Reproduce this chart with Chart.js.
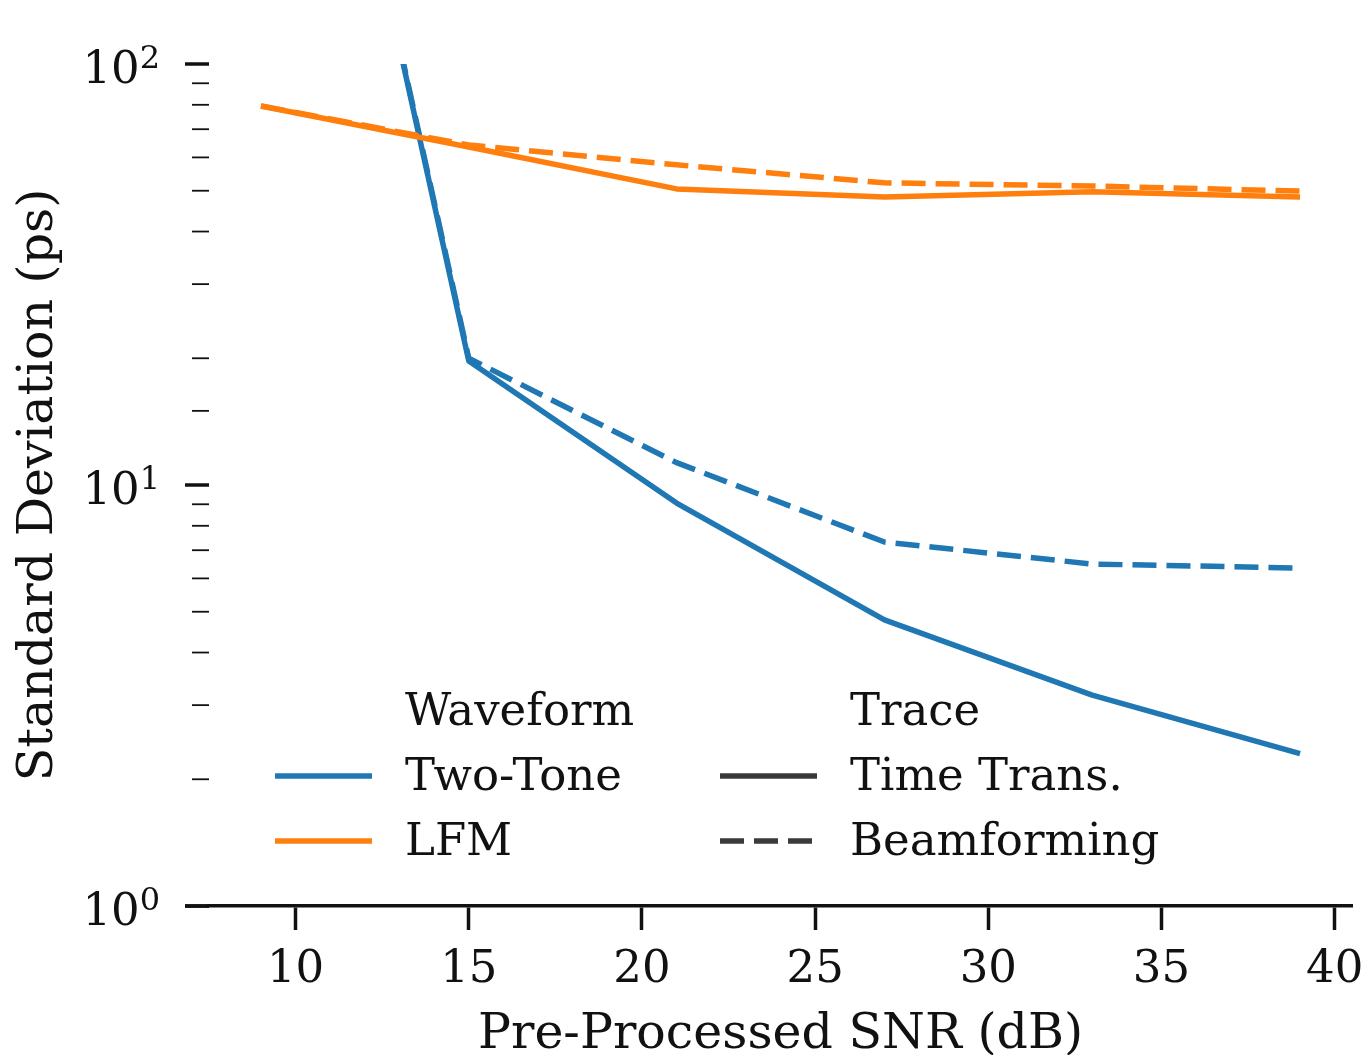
<!DOCTYPE html>
<html>
<head>
<meta charset="utf-8">
<script src="https://cdn.jsdelivr.net/npm/chart.js@4.4.1/dist/chart.umd.min.js"></script>
<style>
  html, body { margin: 0; padding: 0; background: #fff; overflow: hidden; }
  #snrChart { display: block; }
</style>
</head>
<body>
<canvas id="snrChart" width="1366" height="1055"></canvas>
<script>
// pre-processed SNR sweep (dB)
const snrLevels = [9, 15, 21, 27, 33, 39];

// standard deviation of the delay estimate (ps)
const twoToneTimeTrans   = [3400, 19.7, 9.06, 4.78, 3.17, 2.30];
const twoToneBeamforming = [3400, 20.0, 11.3, 7.32, 6.49, 6.35];
const lfmTimeTrans       = [79.5, 63.5, 50.5, 48.3, 49.7, 48.3];
const lfmBeamforming     = [79.5, 64.2, 57.6, 52.2, 51.3, 49.9];

const xTicks = [10, 15, 20, 25, 30, 35, 40];
const yDecades = [1, 10, 100];
const yExponents = ['0', '1', '2'];

// legend groups
const waveformNames = ['Two-Tone', 'LFM'];
const traceNames = ['Time Trans.', 'Beamforming'];

const BLUE = '#1f77b4';
const ORANGE = '#ff7f0e';
const INK = '#111111';
const TRACE_GREY = '#3a3a3a';
const LINE_W = 5.5;
const DASH = [24, 10];
const FONT = "'DejaVu Serif', 'Liberation Serif', serif";

function pairs(ys) {
    return snrLevels.map((x, i) => ({ x: x, y: ys[i] }));
}

function series(label, ys, color, dashed) {
    return {
        label: label,
        data: pairs(ys),
        borderColor: color,
        borderWidth: LINE_W,
        borderDash: dashed ? DASH : [],
        borderJoinStyle: 'round',
        pointRadius: 0,
        pointHoverRadius: 0,
        fill: false,
        tension: 0
    };
}

// y axis: tick marks (long on decades) and 10^n labels with a real superscript
const logAxis = {
    id: 'logAxis',
    afterDraw(chart) {
        const y = chart.scales.y;
        const ctx = chart.ctx;
        const edge = chart.chartArea.left;
        ctx.save();
        ctx.strokeStyle = INK;
        y.ticks.forEach(t => {
            const py = y.getPixelForValue(t.value);
            const major = yDecades.includes(t.value);
            ctx.lineWidth = major ? 3.5 : 1.8;
            ctx.beginPath();
            ctx.moveTo(edge - (major ? 24 : 17), py);
            ctx.lineTo(edge, py);
            ctx.stroke();
        });
        // bottom spine runs on past the y ticks
        const by = chart.scales.x.top;
        ctx.lineWidth = 3.5;
        ctx.beginPath();
        ctx.moveTo(edge - 24, by);
        ctx.lineTo(edge, by);
        ctx.stroke();

        ctx.fillStyle = INK;
        ctx.textBaseline = 'alphabetic';
        ctx.textAlign = 'right';
        const right = edge - 49;
        yDecades.forEach((v, i) => {
            const py = y.getPixelForValue(v);
            ctx.font = '32px ' + FONT;
            const ew = ctx.measureText(yExponents[i]).width;
            ctx.fillText(yExponents[i], right, py + 4);
            ctx.font = '45px ' + FONT;
            ctx.fillText('10', right - ew, py + 19);
        });
        ctx.restore();
    }
};

// two column legend: waveform colour, trace line style
const groupedLegend = {
    id: 'groupedLegend',
    afterDraw(chart) {
        const ctx = chart.ctx;
        const area = chart.chartArea;
        const rowY = [725, 790, 855];
        const cols = [
            { x: area.left + 66, title: 'Waveform', names: waveformNames },
            { x: area.left + 511, title: 'Trace', names: traceNames }
        ];
        ctx.save();
        ctx.font = '45px ' + FONT;
        ctx.fillStyle = INK;
        ctx.textBaseline = 'alphabetic';
        ctx.textAlign = 'left';
        cols.forEach((c, ci) => {
            ctx.fillText(c.title, c.x + 130, rowY[0]);
            c.names.forEach((name, i) => {
                const ly = rowY[i + 1] - 14;
                ctx.lineWidth = LINE_W;
                if (ci === 0) {
                    ctx.strokeStyle = i === 0 ? BLUE : ORANGE;
                    ctx.setLineDash([]);
                } else {
                    ctx.strokeStyle = TRACE_GREY;
                    ctx.setLineDash(i === 0 ? [] : DASH);
                }
                ctx.beginPath();
                ctx.moveTo(c.x, ly);
                ctx.lineTo(c.x + 97, ly);
                ctx.stroke();
                ctx.setLineDash([]);
                ctx.fillText(name, c.x + 130, rowY[i + 1]);
            });
        });
        ctx.restore();
    }
};

new Chart(document.getElementById('snrChart'), {
    type: 'line',
    data: {
        datasets: [
            series('LFM / Beamforming', lfmBeamforming, ORANGE, true),
            series('LFM / Time Trans.', lfmTimeTrans, ORANGE, false),
            series('Two-Tone / Beamforming', twoToneBeamforming, BLUE, true),
            series('Two-Tone / Time Trans.', twoToneTimeTrans, BLUE, false)
        ]
    },
    options: {
        responsive: false,
        animation: false,
        devicePixelRatio: 1,
        layout: { padding: { left: 0, top: 64, right: 14, bottom: 0 } },
        plugins: {
            legend: { display: false },
            tooltip: { enabled: false }
        },
        scales: {
            x: {
                type: 'linear',
                min: 7.5,
                max: 40.5,
                afterBuildTicks: s => { s.ticks = xTicks.map(v => ({ value: v })); },
                afterFit: s => {
                    s.height = 149;
                    s.paddingLeft = 0;
                    s.paddingRight = 0;
                },
                grid: {
                    drawOnChartArea: false,
                    drawTicks: true,
                    tickLength: 24,
                    tickWidth: 3.5,
                    tickColor: INK
                },
                border: { display: true, color: INK, width: 3.5 },
                ticks: {
                    color: INK,
                    padding: 13,
                    maxRotation: 0,
                    autoSkip: false,
                    font: { family: FONT, size: 45 }
                },
                title: {
                    display: true,
                    text: 'Pre-Processed SNR (dB)',
                    color: INK,
                    font: { family: FONT, size: 49 },
                    padding: { top: 0, bottom: -10 }
                }
            },
            y: {
                type: 'logarithmic',
                min: 1,
                max: 100,
                afterFit: s => {
                    s.width = 209;
                    s.paddingTop = 0;
                    s.paddingBottom = 0;
                },
                grid: { display: false, drawTicks: false },
                border: { display: false },
                ticks: { display: false, autoSkip: false },
                title: {
                    display: true,
                    text: 'Standard Deviation (ps)',
                    color: INK,
                    font: { family: FONT, size: 49 },
                    padding: { top: 10, bottom: 0 }
                }
            }
        }
    },
    plugins: [logAxis, groupedLegend]
});
</script>
</body>
</html>
